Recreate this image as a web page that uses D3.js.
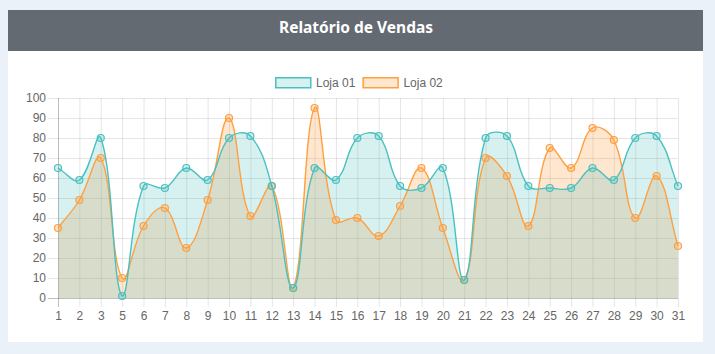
<!DOCTYPE html>
<html>
<head>
<meta charset="utf-8">
<script src="https://cdn.jsdelivr.net/npm/d3@7"></script>
<style>
    body { margin: 0; background: #eaf1f9; }
    svg { display: block; }
</style>
</head>
<body>
<div id="chart"></div>
<script>
const days = [1, 2, 3, 5, 6, 7, 8, 9, 10, 11, 12, 13, 14, 15, 16, 17, 18, 19, 20, 21, 22, 23, 24, 25, 26, 27, 28, 29, 30, 31];
const loja01 = [65, 59, 80, 1, 56, 55, 65, 59, 80, 81, 56, 5, 65, 59, 80, 81, 56, 55, 65, 9, 80, 81, 56, 55, 55, 65, 59, 80, 81, 56];
const loja02 = [35, 49, 70, 10, 36, 45, 25, 49, 90, 41, 56, 5, 95, 39, 40, 31, 46, 65, 35, 9, 70, 61, 36, 75, 65, 85, 79, 40, 61, 26];
const yTicks = [0, 10, 20, 30, 40, 50, 60, 70, 80, 90, 100];

const series = [
    {name: "Loja 01", values: loja01, line: "rgb(75,192,192)", fill: "rgba(75,192,192,0.22)"},
    {name: "Loja 02", values: loja02, line: "rgb(255,159,64)", fill: "rgba(255,159,64,0.26)"}
];

const W = 715, H = 354;
const area = {left: 58, right: 678, top: 98, bottom: 298};

const svg = d3.select("#chart")
    .append("svg")
    .attr("width", W)
    .attr("height", H);

// card + header
svg.append("rect").attr("x", 8).attr("y", 10).attr("width", 695).attr("height", 332).attr("fill", "#fff");
svg.append("rect").attr("x", 8).attr("y", 10).attr("width", 695).attr("height", 41).attr("fill", "#636a72");
svg.append("text")
    .attr("x", 356).attr("y", 33)
    .attr("text-anchor", "middle")
    .attr("fill", "#fff")
    .style("font", "700 15.5px 'Noto Sans', sans-serif")
    .text("Relatório de Vendas");

const x = d3.scalePoint()
    .domain(days)
    .range([area.left, area.right]);

const y = d3.scaleLinear()
    .domain([0, 100])
    .range([area.bottom, area.top]);

const font = "12px 'Liberation Sans', Arial, sans-serif";

// horizontal grid + y labels
const yAxis = svg.append("g")
    .attr("transform", `translate(${area.left},0)`)
    .call(d3.axisLeft(y).tickValues(yTicks).tickSizeInner(-(area.right - area.left)).tickSizeOuter(0).tickPadding(12));
yAxis.select(".domain").remove();
yAxis.selectAll(".tick line")
    .attr("x1", -10)
    .attr("stroke", d => d === 0 ? "rgba(0,0,0,0.25)" : "rgba(0,0,0,0.1)");
yAxis.selectAll(".tick text").attr("fill", "#666").style("font", font);

// vertical grid + x labels
const xAxis = svg.append("g")
    .attr("transform", `translate(0,${area.bottom})`)
    .call(d3.axisBottom(x).tickSizeInner(-(area.bottom - area.top)).tickSizeOuter(0).tickPadding(13));
xAxis.select(".domain").remove();
xAxis.selectAll(".tick line")
    .attr("y1", 9)
    .attr("stroke", (d, i) => i === 0 ? "rgba(0,0,0,0.25)" : "rgba(0,0,0,0.1)");
xAxis.selectAll(".tick text").attr("fill", "#666").style("font", font);

// chart.js style spline (tension 0.4, control points capped to chart area)
const splinePoints = (vals) => {
    const pts = vals.map((v, i) => ({x: x(days[i]), y: y(v)}));
    const t = 0.4;
    pts.forEach((p, i) => {
        const prev = pts[i - 1] || p, next = pts[i + 1] || p;
        const d01 = Math.hypot(p.x - prev.x, p.y - prev.y);
        const d12 = Math.hypot(next.x - p.x, next.y - p.y);
        let s01 = d01 / (d01 + d12) || 0, s12 = d12 / (d01 + d12) || 0;
        const fa = t * s01, fb = t * s12;
        p.c1x = p.x - fa * (next.x - prev.x);
        p.c1y = p.y - fa * (next.y - prev.y);
        p.c2x = p.x + fb * (next.x - prev.x);
        p.c2y = p.y + fb * (next.y - prev.y);
        p.c1x = Math.max(area.left, Math.min(area.right, p.c1x));
        p.c2x = Math.max(area.left, Math.min(area.right, p.c2x));
        p.c1y = Math.max(area.top, Math.min(area.bottom, p.c1y));
        p.c2y = Math.max(area.top, Math.min(area.bottom, p.c2y));
    });
    return pts;
};

const splinePath = (pts, ctx) => {
    ctx.moveTo(pts[0].x, pts[0].y);
    for (let i = 1; i < pts.length; i++) {
        const a = pts[i - 1], b = pts[i];
        ctx.bezierCurveTo(a.c2x, a.c2y, b.c1x, b.c1y, b.x, b.y);
    }
    return ctx;
};

// Loja 01 drawn last, on top; all fills go below all lines
const drawOrder = [...series].reverse();
const fills = svg.append("g");
const lines = svg.append("g");

drawOrder.forEach(s => {
    const pts = splinePoints(s.values);
    const fillPath = splinePath(pts, d3.path());
    fillPath.lineTo(pts[pts.length - 1].x, y(0));
    fillPath.lineTo(pts[0].x, y(0));
    fillPath.closePath();

    fills.append("path")
        .attr("d", fillPath.toString())
        .attr("fill", s.fill);

    lines.append("path")
        .attr("d", splinePath(pts, d3.path()).toString())
        .attr("fill", "none")
        .attr("stroke", s.line)
        .attr("stroke-width", 1.4);

    lines.append("g")
        .selectAll("circle")
        .data(s.values)
        .join("circle")
        .attr("cx", (d, i) => x(days[i]))
        .attr("cy", d => y(d))
        .attr("r", 3.5)
        .attr("fill", s.fill)
        .attr("stroke", s.line)
        .attr("stroke-width", 1.2);
});

// legend
const legend = svg.append("g").attr("transform", "translate(275,77)");
let lx = 0;
series.forEach(s => {
    const g = legend.append("g").attr("transform", `translate(${lx},0)`);
    g.append("rect")
        .attr("x", 0.75).attr("y", 0.75)
        .attr("width", 35).attr("height", 10)
        .attr("fill", s.fill)
        .attr("stroke", s.line)
        .attr("stroke-width", 1.5);
    const txt = g.append("text")
        .attr("x", 41).attr("y", 10)
        .attr("fill", "#666")
        .style("font", font)
        .text(s.name);
    lx += 41 + txt.node().getComputedTextLength() + 7;
});
</script>
</body>
</html>
